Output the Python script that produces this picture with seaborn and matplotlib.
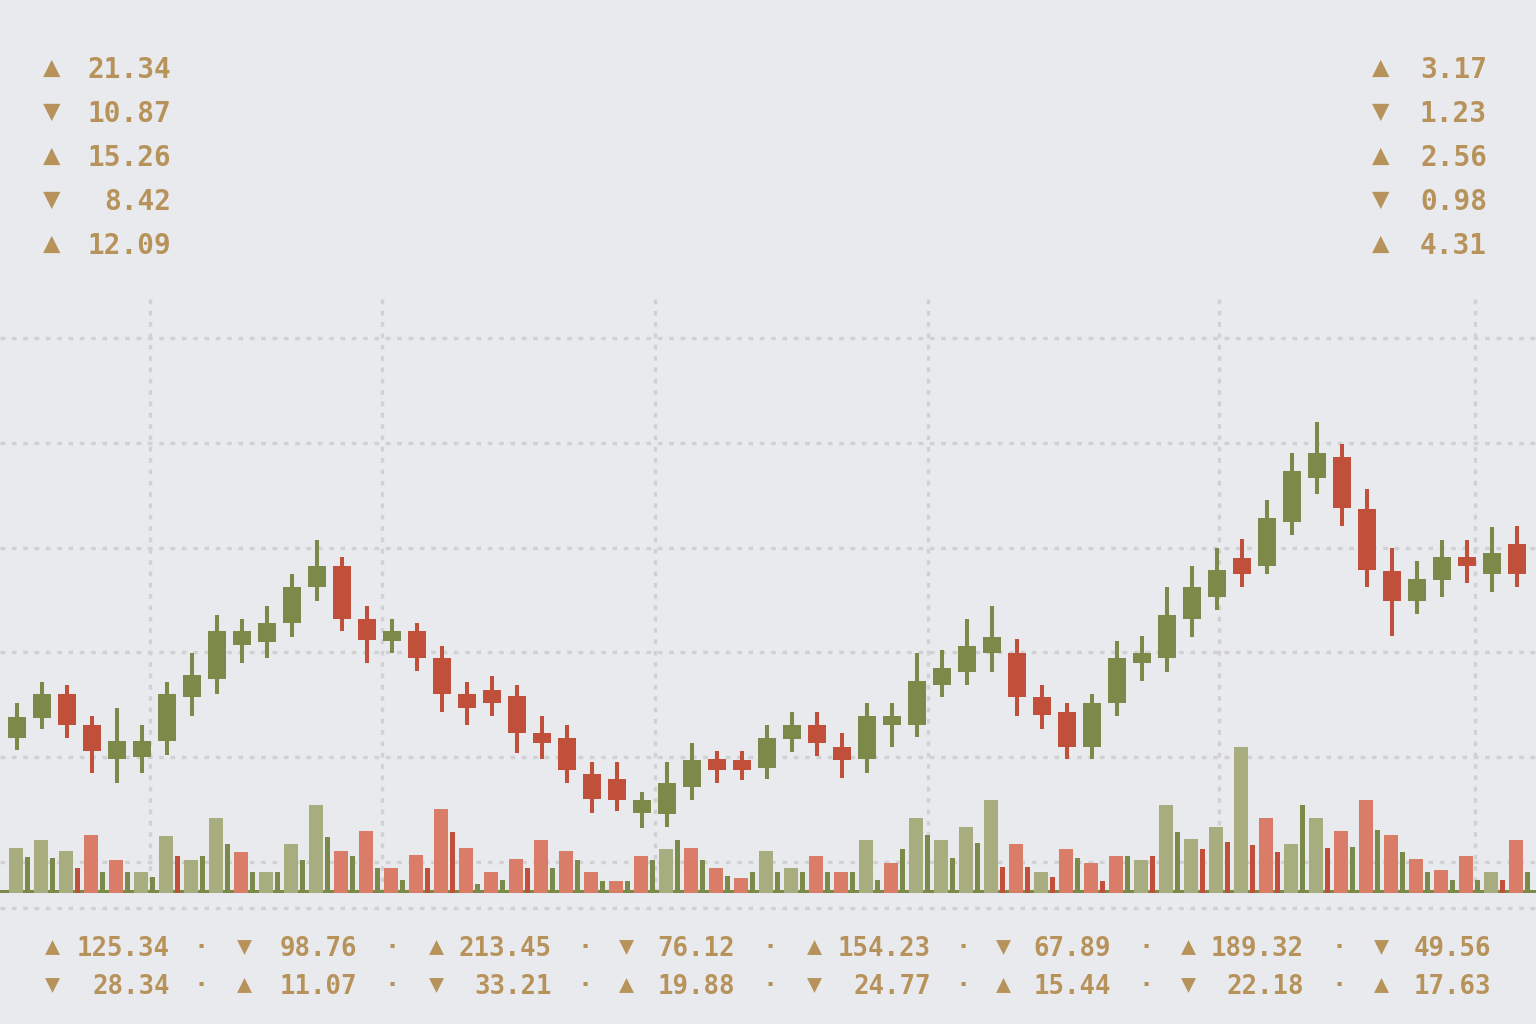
import numpy as np
import pandas as pd
import seaborn as sns
import matplotlib.pyplot as plt
from matplotlib.lines import Line2D

# candle data (one per session)
opens = [101.8, 103.7, 106.0, 103.1, 99.8, 100.0, 101.5, 105.7, 107.5, 110.7,
         111.0, 112.8, 116.2, 118.2, 113.2, 111.1, 112.0, 109.5, 106.0, 106.4,
         105.8, 102.3, 101.8, 98.4, 97.9, 94.7, 94.6, 97.2, 99.8, 99.7,
         99.0, 101.7, 103.1, 101.0, 99.8, 103.1, 103.1, 106.9, 108.1, 109.9,
         109.9, 105.7, 104.3, 101.0, 105.2, 109.0, 109.5, 113.2, 115.3, 119.0,
         118.2, 122.4, 126.6, 128.6, 123.7, 117.8, 114.9, 116.9, 119.1, 117.5, 120.3]
closes = [103.8, 106.0, 103.1, 100.6, 101.5, 101.5, 106.0, 107.8, 112.0, 112.0,
          112.8, 116.2, 118.2, 113.2, 111.2, 112.0, 109.5, 106.0, 104.7, 105.2,
          102.3, 101.4, 98.8, 96.0, 95.9, 95.9, 97.5, 99.7, 98.8, 98.8,
          101.8, 103.1, 101.4, 99.7, 103.9, 103.9, 107.3, 108.5, 110.6, 111.5,
          105.7, 104.0, 101.0, 105.2, 109.5, 109.9, 113.6, 116.2, 117.9, 117.5,
          122.8, 127.3, 129.0, 123.8, 117.9, 114.9, 117.0, 119.1, 118.2, 119.5, 117.5]
highs = [105.2, 107.2, 106.9, 103.9, 104.7, 103.1, 107.2, 109.9, 113.6, 113.2,
         114.4, 117.5, 120.7, 119.1, 114.4, 113.2, 112.8, 110.6, 107.2, 107.7,
         106.9, 103.9, 103.1, 99.5, 99.5, 96.7, 99.5, 101.4, 100.6, 100.6,
         103.1, 104.3, 104.3, 102.3, 105.2, 105.2, 109.9, 110.2, 113.2, 114.4,
         111.3, 106.9, 105.2, 106.0, 111.1, 111.6, 116.2, 118.2, 120.0, 120.8,
         124.5, 129.0, 132.0, 129.9, 125.6, 120.0, 118.7, 120.7, 120.7, 122.0, 122.1]
lows = [100.7, 102.7, 101.8, 98.5, 97.5, 98.5, 100.2, 103.9, 106.0, 109.0,
        109.5, 111.5, 114.9, 112.0, 109.0, 109.9, 108.2, 104.3, 103.1, 103.9,
        100.4, 99.8, 97.5, 94.7, 94.9, 93.2, 93.3, 95.9, 97.5, 97.8,
        97.9, 100.5, 100.1, 98.0, 98.5, 101.0, 101.9, 105.7, 106.9, 108.1,
        103.9, 102.7, 99.8, 99.8, 103.9, 107.3, 108.1, 111.5, 114.0, 116.2,
        117.5, 121.2, 125.1, 122.1, 116.2, 111.6, 113.7, 115.3, 116.6, 115.8, 116.2]

# volume: main (light) bars and the thin companion bars
volume = [45, 53, 42, 58, 33, 21, 57, 33, 75, 41,
          21, 49, 88, 42, 62, 25, 38, 84, 45, 21,
          34, 53, 42, 21, 12, 37, 44, 45, 25, 15,
          42, 25, 37, 21, 53, 30, 75, 53, 66, 93,
          49, 21, 44, 30, 37, 33, 88, 54, 66, 146,
          75, 49, 75, 62, 93, 58, 34, 23, 37, 21, 53]
volume_dir = list("uuudduuuud" "uuuddddddd" "dddddduddd" "uudduduuuu"
                  "duddduuuuu" "duudddddd" "ud")
volume_b = [36, 35, 25, 21, 21, 16, 37, 37, 49, 21,
            21, 33, 56, 37, 25, 13, 25, 61, 9, 13,
            25, 25, 33, 12, 12, 33, 53, 33, 17, 21,
            21, 21, 21, 21, 13, 44, 58, 35, 50, 26,
            26, 16, 35, 12, 37, 37, 61, 44, 51, 48,
            41, 88, 45, 46, 63, 41, 21, 13, 13, 13, 21]
volume_b_dir = list("uuduuuduuu" "uuuuuudduu" "duuuuuuuuu" "uuuuuuuuud"
                    "ddudududdd" "dudu" "uuuuudu")

# side readouts
left_vals = ["21.34", "10.87", "15.26", "8.42", "12.09"]
right_vals = ["3.17", "1.23", "2.56", "0.98", "4.31"]
side_dirs = ["u", "d", "u", "d", "u"]
bottom_row1 = ["125.34", "98.76", "213.45", "76.12", "154.23", "67.89", "189.32", "49.56"]
bottom_row2 = ["28.34", "11.07", "33.21", "19.88", "24.77", "15.44", "22.18", "17.63"]
row1_dirs = ["u", "d", "u", "d", "u", "d", "u", "d"]
row2_dirs = ["d", "u", "d", "u", "d", "u", "d", "u"]

BG = "#e9eaed"
UP = "#7c8a49"
DOWN = "#c0503a"
UP_LIGHT = "#a7ad7f"
DOWN_LIGHT = "#d97d68"
TEXT = "#b7935b"
GRID = "#d1d1d3"
ARROW = {"u": "\u25b2", "d": "\u25bc"}

sns.set_theme(style="white", rc={"figure.facecolor": BG, "axes.facecolor": BG})
plt.rcParams["font.family"] = ["DejaVu Sans Mono", "DejaVu Sans"]

df = pd.DataFrame({"open": opens, "high": highs, "low": lows, "close": closes,
                   "vol": volume, "vdir": volume_dir,
                   "vol_b": volume_b, "vdir_b": volume_b_dir})
df["x"] = np.arange(len(df))
df["up"] = df["close"] >= df["open"]

W, H = 1536, 1024
fig = plt.figure(figsize=(W / 100, H / 100), dpi=100)
fig.patch.set_facecolor(BG)

top_px, base_px = 295, 893
ax = fig.add_axes([0, 1 - base_px / H, 1, (base_px - top_px) / H])
ax.set_facecolor(BG)
ax.set_xlim(-0.68, 60.76)
ax.set_ylim(87.04, 144.1)

dots = (0, (1.4, 2.0))
for p in [90, 100, 110, 120, 130, 140]:
    ax.axhline(p, color=GRID, lw=2.4, ls=dots, zorder=0)
for gx in [5.32, 14.6, 25.52, 36.44, 48.08, 58.32]:
    ax.axvline(gx, color=GRID, lw=2.4, ls=dots, zorder=0)

colors = np.where(df["up"], UP, DOWN)
ax.vlines(df["x"], df["low"], df["high"], colors=colors, lw=2.9, zorder=3)
body_lo = df[["open", "close"]].min(axis=1)
body_h = (df["close"] - df["open"]).abs().clip(lower=0.4)
ax.bar(df["x"], body_h, bottom=body_lo, width=0.7, color=colors, lw=0, zorder=4)

for s in ax.spines.values():
    s.set_visible(False)
ax.set_xticks([])
ax.set_yticks([])

# volume on its own scale along the bottom
ax2 = ax.twinx()
ax2.set_ylim(0, base_px - top_px)
ax2.axhline(1, color=UP, lw=2.9, zorder=1)
light = np.where(df["vdir"] == "u", UP_LIGHT, DOWN_LIGHT)
ax2.bar(df["x"] - 0.05, df["vol"], width=0.55, color=light, lw=0, zorder=2)
dark = np.where(df["vdir_b"] == "u", UP, DOWN)
ax2.bar(df["x"] + 0.42, df["vol_b"], width=0.22, color=dark, lw=0, zorder=2)
for s in ax2.spines.values():
    s.set_visible(False)
ax2.set_yticks([])
ax2.grid(False)

# separator under the volume strip
y_sep = 1 - 908 / H
fig.add_artist(Line2D([0, 1], [y_sep, y_sep], transform=fig.transFigure,
                      color=GRID, lw=2.4, ls=dots))


def put(x, y, s, size, ha="left", va="baseline"):
    fig.text(x / W, 1 - y / H, s, color=TEXT, fontsize=size, fontweight="bold",
             ha=ha, va=va)


for i, (lv, rv, d) in enumerate(zip(left_vals, right_vals, side_dirs)):
    yc = 68 + 44 * i
    put(52, yc, ARROW[d], 21, ha="center", va="center")
    put(171, yc + 10, lv, 20, ha="right")
    put(1381, yc, ARROW[d], 21, ha="center", va="center")
    put(1487, yc + 10, rv, 20, ha="right")

tri_x = [52, 244, 436, 626, 814, 1003, 1188, 1381]
val_right = [170, 357, 552, 735, 931, 1111, 1304, 1491]
dot_x = [201, 392, 585, 770, 963, 1146, 1339]
for row_vals, row_dirs, yb in [(bottom_row1, row1_dirs, 956), (bottom_row2, row2_dirs, 994)]:
    for tx, vr, v, d in zip(tri_x, val_right, row_vals, row_dirs):
        put(tx, yb - 9, ARROW[d], 18, ha="center", va="center")
        put(vr, yb, v, 18.5, ha="right")
    for dx in dot_x:
        put(dx, yb - 9, "\u00b7", 18, ha="center", va="center")

fig.savefig("out.png", dpi=100, facecolor=BG)
